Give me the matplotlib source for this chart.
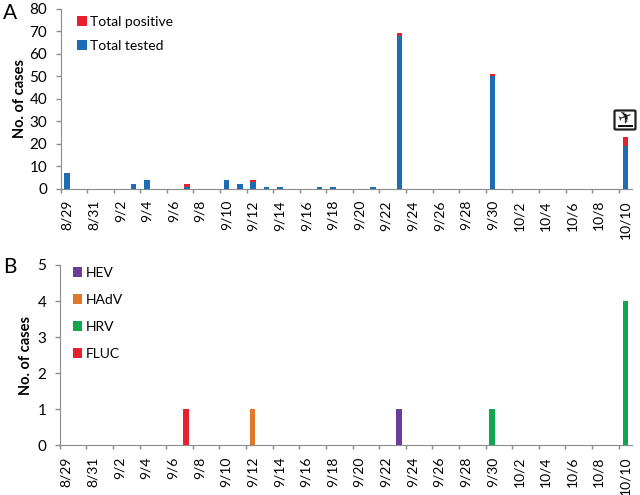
import matplotlib
matplotlib.use('Agg')
import matplotlib.pyplot as plt
from matplotlib.patches import FancyBboxPatch, Rectangle

plt.rcParams['font.family'] = ['Lato', 'DejaVu Sans']

days = ['8/29', '8/30', '8/31'] + ['9/%d' % d for d in range(1, 31)] + ['10/%d' % d for d in range(1, 11)]
tick_labels = days[::2]

tested_days = ['8/29', '9/3', '9/4', '9/7', '9/10', '9/11', '9/12', '9/13', '9/14', '9/17', '9/18', '9/21', '9/23', '9/30', '10/10']
tested = [7, 2, 4, 1, 4, 2, 3, 1, 1, 1, 1, 1, 68, 50, 19]
positive = [0, 0, 0, 1, 0, 0, 1, 0, 0, 0, 0, 0, 1, 1, 4]

virus_names = ['HEV', 'HAdV', 'HRV', 'FLUC']
virus_colors = ['#6a3d9a', '#e0782b', '#0fa650', '#e8202e']
virus_days = [['9/23'], ['9/12'], ['9/30', '10/10'], ['9/7']]
virus_counts = [[1], [1], [1, 4], [1]]

BLUE = '#1c6db5'
RED = '#e8202e'
GREY = '#8c8c8c'
W, H = 640, 495


def px_axes(fig, left, top, right, bottom):
    return fig.add_axes([left / W, 1 - bottom / H, (right - left) / W, (bottom - top) / H])


def style(ax, ymax, ystep):
    ax.set_xlim(0, len(days))
    ax.set_ylim(0, ymax)
    ax.set_yticks(range(0, ymax + 1, ystep))
    # ticks sit on category edges, labels in the middle of the category
    ax.set_xticks(range(0, len(days), 2))
    ax.set_xticklabels([])
    ax.set_xticks([i + 0.5 for i in range(0, len(days), 2)], minor=True)
    ax.set_xticklabels(tick_labels, minor=True, rotation=90, fontsize=10)
    ax.tick_params(axis='x', which='minor', length=0, pad=8)
    ax.tick_params(axis='x', which='major', color=GREY, length=3, width=1)
    ax.tick_params(axis='y', labelsize=11, color=GREY, length=3.6, width=1, pad=6)
    for side in ['top', 'right']:
        ax.spines[side].set_visible(False)
    for side in ['left', 'bottom']:
        ax.spines[side].set_color(GREY)
    ax.set_ylabel('No. of cases', fontsize=10.5, fontweight='bold')


fig = plt.figure(figsize=(6.4, 4.95), dpi=100)

# Panel A
ax_a = px_axes(fig, 60.5, 8.7, 632, 189)
xs = [days.index(d) + 0.5 for d in tested_days]
bar_tested = ax_a.bar(xs, tested, width=0.42, color=BLUE, label='Total tested')
bar_positive = ax_a.bar(xs, positive, width=0.42, bottom=tested, color=RED, label='Total positive')
style(ax_a, 80, 10)
ax_a.yaxis.labelpad = 2
ax_a.legend([bar_positive, bar_tested], ['Total positive', 'Total tested'], loc='upper left',
            bbox_to_anchor=(0.007, 1.028), frameon=False, fontsize=10, handlelength=0.7,
            handleheight=0.7, handletextpad=0.25, labelspacing=0.82, borderpad=0.4)

# Panel B
ax_b = px_axes(fig, 59.7, 265, 632, 445.3)
handles = []
for name, color, when, counts in zip(virus_names, virus_colors, virus_days, virus_counts):
    bars = ax_b.bar([days.index(d) + 0.5 for d in when], counts, width=0.42, color=color, label=name)
    handles.append(bars)
style(ax_b, 5, 1)
ax_b.yaxis.labelpad = 3.5
ax_b.legend(handles, virus_names, loc='upper left', bbox_to_anchor=(0.001, 1.06), frameon=False,
            fontsize=10, handlelength=0.7, handleheight=0.7, handletextpad=0.25,
            labelspacing=1.08, borderpad=0.4)

# Panel letters
fig.text(3 / W, 1 - 13 / H, 'A', fontsize=15, va='center')
fig.text(3 / W, 1 - 267 / H, 'B', fontsize=15, va='center')

# Departure icon over the last bar
fig.add_artist(FancyBboxPatch((614.5 / W, 1 - 129.5 / H), 21 / W, 19 / H, transform=fig.transFigure,
                              boxstyle='round,pad=0,rounding_size=0.002', fc='white', ec='#222222', lw=1.6))
fig.add_artist(Rectangle((617.5 / W, 1 - 127 / H), 15.5 / W, 1.8 / H, transform=fig.transFigure,
                         fc='#111111', ec='none'))
fig.text(625 / W, 1 - 118 / H, '\u2708', family='DejaVu Sans', fontsize=12, rotation=20,
         color='#111111', ha='center', va='center')

fig.savefig('out.png', dpi=100, facecolor='white')
